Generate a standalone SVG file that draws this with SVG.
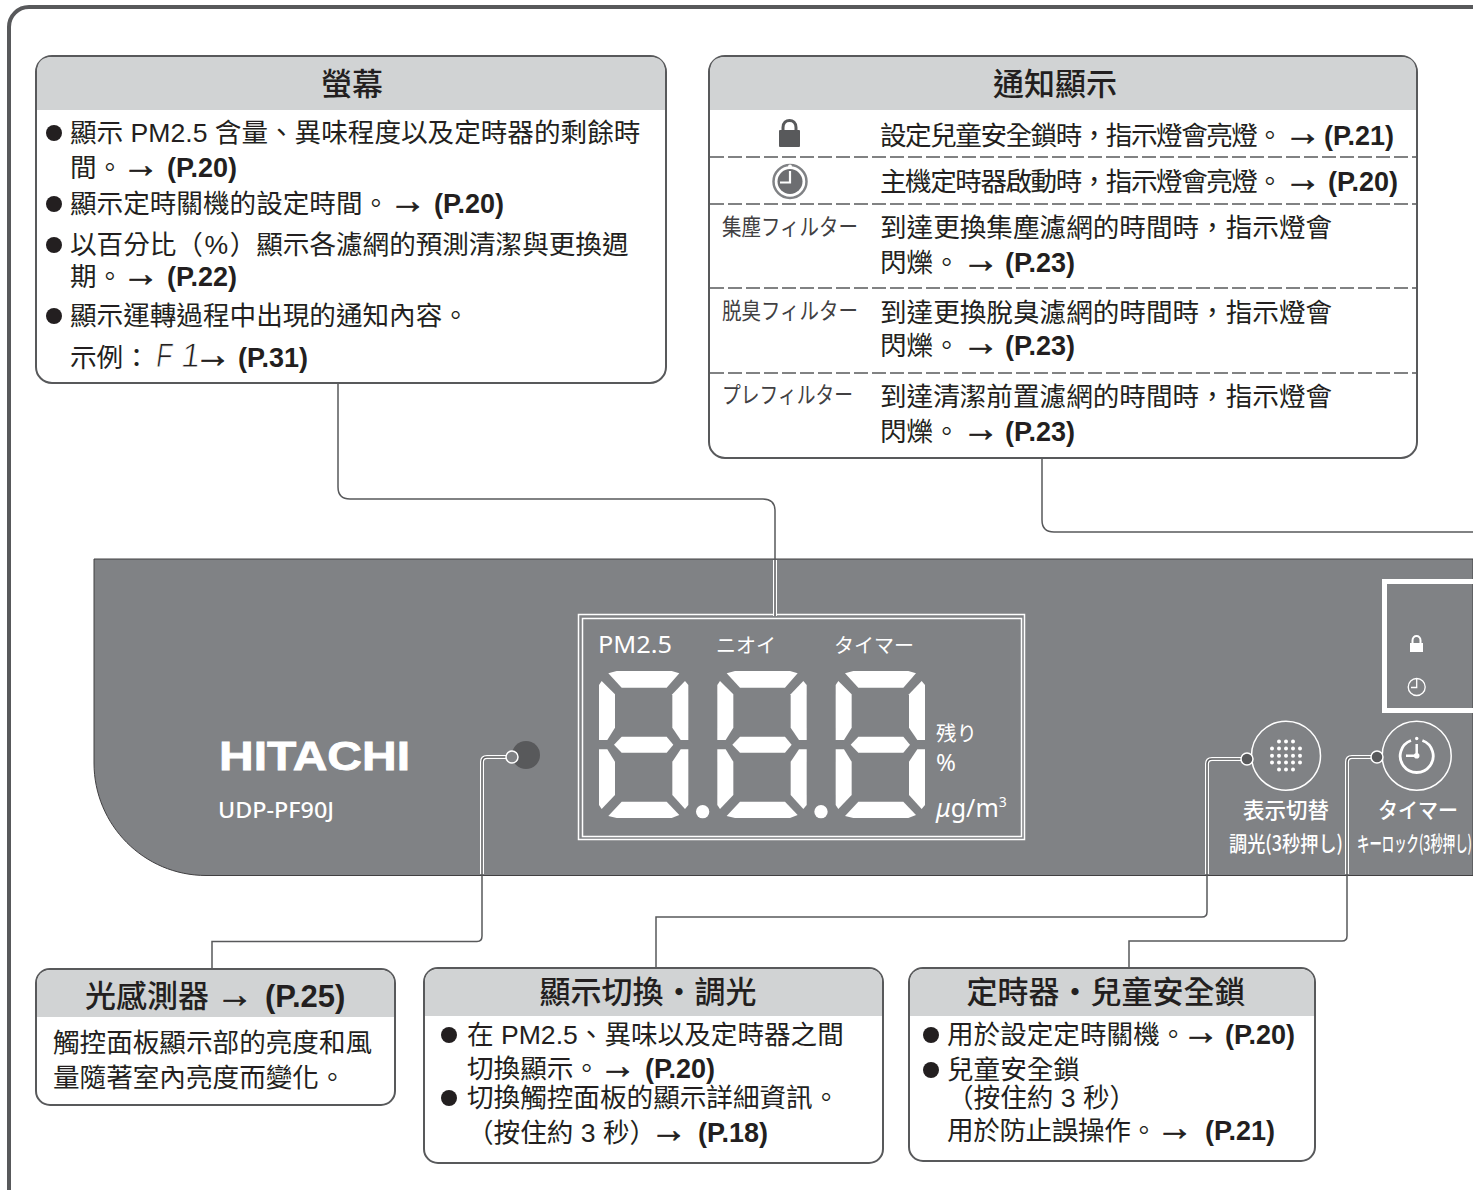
<svg xmlns="http://www.w3.org/2000/svg" xmlns:xlink="http://www.w3.org/1999/xlink" width="1473" height="1190" viewBox="0 0 1473 1190">
<style>
text{font-family:"Liberation Sans","Noto Sans CJK TC",sans-serif;fill:#231f20}
.b{font-size:26.6px}
.p{font-weight:bold;font-size:27px}
.a{font-weight:bold;font-size:37px;stroke:#231f20;stroke-width:.7}
.h{font-size:31px;font-weight:500;text-anchor:middle}
.hp{font-weight:bold;font-size:31px}
.box{fill:#fff;stroke:#58595b;stroke-width:2}
.hd{fill:#d1d3d4}
.dash{stroke:#58595b;stroke-width:1.5;stroke-dasharray:14 4;fill:none}
.bul{fill:#231f20}
.halo{fill:none;stroke:#fff;stroke-width:4}
.ln{fill:none;stroke:#58595b;stroke-width:1.5}
.w{fill:#fff;font-family:"Noto Sans CJK JP","Noto Sans",sans-serif}
.k{font-family:"Noto Sans CJK JP",sans-serif;font-size:23px;fill:#414042}
.seg{fill:#fff}
.sm{fill:#58595b;stroke:#fff;stroke-width:1.5}
</style>
<defs>
<g id="digit">
<polygon class="seg" points="115,220 140,213 305,213 328,220 290,263 155,263"/>
<polygon class="seg" points="87,255 95,243 135,283 135,383 112,420 87,420"/>
<polygon class="seg" points="355,255 345,243 307,283 307,383 332,420 355,420"/>
<polygon class="seg" points="132,434 155,410 290,410 310,434 290,458 155,458"/>
<polygon class="seg" points="87,448 112,448 135,485 135,585 95,627 87,615"/>
<polygon class="seg" points="355,448 332,448 307,485 307,585 345,627 355,615"/>
<polygon class="seg" points="115,648 155,605 290,605 328,645 305,654 140,654"/>
</g>
</defs>
<rect width="1473" height="1190" fill="#fff"/>
<rect id="frame" x="9" y="7" width="1500" height="1230" rx="20" fill="none" stroke="#58595b" stroke-width="4"/>

<g id="panel">
<path d="M94 559H1473V875.500H206C144 875.500 94 825 94 763Z" fill="#808285" stroke="#414042" stroke-width="1"/>
<g id="brand">
<text x="219" y="770" font-size="41" font-weight="bold" textLength="191" lengthAdjust="spacingAndGlyphs" style="fill:#fff;stroke:#fff;stroke-width:.8">HITACHI</text>
<text x="218" y="818" font-size="21" font-weight="500" textLength="116" lengthAdjust="spacingAndGlyphs" style="fill:#fff;font-family:'Noto Sans',sans-serif">UDP-PF90J</text>
</g>
<circle id="sensor" cx="526" cy="755" r="14" fill="#58595b"/>
<g id="display">
<rect x="578.500" y="614.500" width="446" height="225" fill="none" stroke="#fff" stroke-width="1.500"/>
<rect x="582.500" y="618.500" width="439" height="218" fill="none" stroke="#fff" stroke-width="1.500"/>
<text x="598" y="653" font-size="23" class="w" textLength="74" lengthAdjust="spacingAndGlyphs" style="font-family:'Noto Sans',sans-serif">PM2.5</text>
<text x="716" y="653" font-size="20" class="w">ニオイ</text>
<text x="834" y="653" font-size="20" class="w" textLength="80" lengthAdjust="spacingAndGlyphs">タイマー</text>
<g transform="translate(570 600) scale(.33333)">
<use xlink:href="#digit"/>
<use xlink:href="#digit" x="355"/>
<use xlink:href="#digit" x="710"/>
<circle cx="398" cy="635" r="20" fill="#fff"/>
<circle cx="753" cy="635" r="20" fill="#fff"/>
</g>
<text x="936" y="741" font-size="20.500" class="w">残り</text>
<text x="936" y="771" font-size="24" class="w" style="font-family:'Noto Sans',sans-serif">%</text>
<text x="936" y="817" font-size="25" class="w" style="font-family:'Noto Sans',sans-serif"><tspan font-style="italic">μ</tspan>g/m<tspan font-size="14" dy="-10">3</tspan></text>
</g>
<g id="indicator">
<path d="M1473 581.500H1384.500V710.500H1473" fill="none" stroke="#fff" stroke-width="5"/>
<rect x="1410" y="643" width="13" height="9" fill="#fff"/>
<path d="M1412.500 644V640.500C1412.500 634.500 1420.500 634.500 1420.500 640.500V644" fill="none" stroke="#fff" stroke-width="2"/>
<circle cx="1416.700" cy="687" r="8.500" fill="none" stroke="#fff" stroke-width="1.300"/>
<path d="M1416.700 679V687.500H1411" fill="none" stroke="#fff" stroke-width="1.300"/>
</g>
<g id="btn-display">
<circle cx="1286" cy="755.700" r="34.500" fill="none" stroke="#fff" stroke-width="1.500"/>
<g fill="#fff">
<circle cx="1279" cy="741.500" r="2"/><circle cx="1286" cy="741.500" r="2"/><circle cx="1293" cy="741.500" r="2"/>
<circle cx="1272" cy="748.500" r="2"/><circle cx="1279" cy="748.500" r="2"/><circle cx="1286" cy="748.500" r="2"/><circle cx="1293" cy="748.500" r="2"/><circle cx="1300" cy="748.500" r="2"/>
<circle cx="1272" cy="755.700" r="2"/><circle cx="1279" cy="755.700" r="2"/><circle cx="1286" cy="755.700" r="2"/><circle cx="1293" cy="755.700" r="2"/><circle cx="1300" cy="755.700" r="2"/>
<circle cx="1272" cy="762.500" r="2"/><circle cx="1279" cy="762.500" r="2"/><circle cx="1286" cy="762.500" r="2"/><circle cx="1293" cy="762.500" r="2"/><circle cx="1300" cy="762.500" r="2"/>
<circle cx="1279" cy="769.500" r="2"/><circle cx="1286" cy="769.500" r="2"/><circle cx="1293" cy="769.500" r="2"/>
</g>
<text x="1243" y="818" font-size="21.500" font-weight="500" class="w" textLength="86">表示切替</text>
<text x="1229" y="851" font-size="21" font-weight="500" class="w" textLength="114" lengthAdjust="spacingAndGlyphs">調光(3秒押し)</text>
</g>
<g id="btn-timer">
<circle cx="1416.700" cy="755.700" r="34.500" fill="none" stroke="#fff" stroke-width="1.500"/>
<path d="M1411 740.500A16.500 16.500 0 1 0 1422.400 740.500" fill="none" stroke="#fff" stroke-width="2.800"/>
<circle cx="1416.700" cy="738.500" r="1.700" fill="#fff"/>
<path d="M1416.700 744V755.700H1406" fill="none" stroke="#fff" stroke-width="2.500"/>
<circle cx="1416.700" cy="755.700" r="2.800" fill="#fff"/>
<text x="1378" y="818" font-size="21.500" font-weight="500" class="w" textLength="80" lengthAdjust="spacingAndGlyphs">タイマー</text>
<text x="1357" y="851" font-size="21" font-weight="500" class="w" textLength="115" lengthAdjust="spacingAndGlyphs">キーロック(3秒押し)</text>
</g>
</g>

<g id="connectors">
<path class="ln" d="M338 383V487Q338 499 350 499H763Q775 499 775 511V558"/>
<path class="halo" d="M775 560V616"/><path class="ln" d="M775 558V616"/>
<path class="ln" d="M1042 458V520Q1042 532 1054 532H1473"/>
<path class="halo" d="M506 757H487Q482 757 482 762V874"/>
<path class="ln" d="M506 757H487Q482 757 482 762V936Q482 941.500 477 941.500H212V968"/>
<path class="halo" d="M1241 759H1212Q1207 759 1207 764V874"/>
<path class="ln" d="M1241 759H1212Q1207 759 1207 764V912Q1207 917 1202 917H656V967"/>
<path class="halo" d="M1371 757H1352Q1347 757 1347 762V874"/>
<path class="ln" d="M1371 757H1352Q1347 757 1347 762V936Q1347 941 1342 941H1129V967"/>
<circle cx="512" cy="757" r="6" fill="#808285" stroke="#fff" stroke-width="1.500"/>
<circle class="sm" cx="1247" cy="759" r="6"/>
<circle class="sm" cx="1377" cy="757" r="6"/>
</g>

<g id="box-screen">
<rect class="box" x="36" y="56" width="630" height="327" rx="16"/>
<path class="hd" d="M37 110V72Q37 57 52 57H650Q665 57 665 72V110Z"/>
<text class="h" x="352" y="95">螢幕</text>
<circle class="bul" cx="54" cy="133" r="8"/>
<text class="b" x="70" y="142">顯示 PM2.5 含量、異味程度以及定時器的剩餘時</text>
<text class="b" x="70" y="177">間。<tspan class="a" x="122">→</tspan><tspan class="p" x="167">(P.20)</tspan></text>
<circle class="bul" cx="54" cy="204" r="8"/>
<text class="b" x="70" y="213">顯示定時關機的設定時間。<tspan class="a" x="389">→</tspan><tspan class="p" x="434">(P.20)</tspan></text>
<circle class="bul" cx="54" cy="245" r="8"/>
<text class="b" x="70" y="254">以百分比（<tspan dx="1.500">%</tspan><tspan dx="1.500">）</tspan>顯示各濾網的預測清潔與更換週</text>
<text class="b" x="70" y="286">期。<tspan class="a" x="122">→</tspan><tspan class="p" x="167">(P.22)</tspan></text>
<circle class="bul" cx="54" cy="316" r="8"/>
<text class="b" x="70" y="325">顯示運轉過程中出現的通知內容。</text>
<text class="b" x="70" y="367">示例：</text>
<text transform="translate(155 367) skewX(-8)" textLength="16" lengthAdjust="spacingAndGlyphs" style="font-size:34px;font-family:'Liberation Sans',sans-serif;stroke:#fff;stroke-width:.8">F</text>
<text transform="translate(180 367) skewX(-8)" style="font-size:34px;font-family:'Liberation Sans',sans-serif;stroke:#fff;stroke-width:.8">1</text>
<text x="194" y="367"><tspan class="a">→</tspan><tspan class="p" x="238">(P.31)</tspan></text>
</g>

<g id="box-notice">
<rect class="box" x="709" y="56" width="708" height="402" rx="16"/>
<path class="hd" d="M710 110V72Q710 57 725 57H1401Q1416 57 1416 72V110Z"/>
<text class="h" x="1055" y="95">通知顯示</text>
<rect x="779" y="130" width="21" height="17" rx="1" fill="#58595b"/>
<path d="M783 131V127.500C783 118 796 118 796 127.500V131" fill="none" stroke="#58595b" stroke-width="3"/>
<circle cx="790" cy="181.500" r="16.500" fill="#fff" stroke="#808285" stroke-width="2.500"/>
<circle cx="790" cy="181.500" r="12.500" fill="#6d6e71"/>
<circle cx="790" cy="166.500" r="2" fill="#fff"/>
<path d="M790 171V182.500H780" fill="none" stroke="#fff" stroke-width="2.200"/>
<text class="b" x="880" y="145" textLength="403">設定兒童安全鎖時，指示燈會亮燈。</text>
<text x="1284" y="145"><tspan class="a">→</tspan><tspan class="p" x="1324">(P.21)</tspan></text>
<path class="dash" d="M710 157H1416"/>
<text class="b" x="880" y="191" textLength="403">主機定時器啟動時，指示燈會亮燈。</text>
<text x="1284" y="191"><tspan class="a">→</tspan><tspan class="p" x="1328">(P.20)</tspan></text>
<path class="dash" d="M710 204H1416"/>
<text class="k" x="722" y="235" textLength="136" lengthAdjust="spacingAndGlyphs">集塵フィルター</text>
<text class="b" x="880" y="237">到達更換集塵濾網的時間時，指示燈會</text>
<text class="b" x="880" y="272">閃爍。<tspan class="a" x="962">→</tspan><tspan class="p" x="1005">(P.23)</tspan></text>
<path class="dash" d="M710 288H1416"/>
<text class="k" x="722" y="319" textLength="136" lengthAdjust="spacingAndGlyphs">脱臭フィルター</text>
<text class="b" x="880" y="322">到達更換脫臭濾網的時間時，指示燈會</text>
<text class="b" x="880" y="355">閃爍。<tspan class="a" x="962">→</tspan><tspan class="p" x="1005">(P.23)</tspan></text>
<path class="dash" d="M710 373H1416"/>
<text class="k" x="722" y="403" textLength="131" lengthAdjust="spacingAndGlyphs">プレフィルター</text>
<text class="b" x="880" y="406">到達清潔前置濾網的時間時，指示燈會</text>
<text class="b" x="880" y="441">閃爍。<tspan class="a" x="962">→</tspan><tspan class="p" x="1005">(P.23)</tspan></text>
</g>

<g id="box-sensor">
<rect class="box" x="36" y="969" width="359" height="136" rx="14"/>
<path class="hd" d="M37 1017V984Q37 970 51 970H380Q394 970 394 984V1017Z"/>
<text x="85" y="1007" style="font-size:31px;font-weight:500">光感測器<tspan class="a" x="216">→</tspan><tspan class="hp" x="265">(P.25)</tspan></text>
<text class="b" x="53" y="1052">觸控面板顯示部的亮度和風</text>
<text class="b" x="53" y="1087">量隨著室內亮度而變化。</text>
</g>

<g id="box-dimmer">
<rect class="box" x="424" y="968" width="459" height="195" rx="14"/>
<path class="hd" d="M425 1016V983Q425 969 439 969H868Q882 969 882 983V1016Z"/>
<text class="h" x="648" y="1003">顯示切換・調光</text>
<circle class="bul" cx="449" cy="1035" r="8"/>
<text class="b" x="467" y="1044">在 PM2.5、異味以及定時器之間</text>
<text class="b" x="467" y="1078">切換顯示。<tspan class="a" x="599">→</tspan><tspan class="p" x="645">(P.20)</tspan></text>
<circle class="bul" cx="449" cy="1098" r="8"/>
<text class="b" x="467" y="1107">切換觸控面板的顯示詳細資訊。</text>
<text class="b" x="467" y="1142">（按住約 3 秒）<tspan class="a" x="650">→</tspan><tspan class="p" x="698">(P.18)</tspan></text>
</g>

<g id="box-timer">
<rect class="box" x="909" y="968" width="406" height="193" rx="14"/>
<path class="hd" d="M910 1016V983Q910 969 924 969H1300Q1314 969 1314 983V1016Z"/>
<text class="h" x="1106" y="1003">定時器・兒童安全鎖</text>
<circle class="bul" cx="931" cy="1035" r="8"/>
<text class="b" x="947" y="1044">用於設定定時關機。<tspan class="a" x="1182">→</tspan><tspan class="p" x="1225">(P.20)</tspan></text>
<circle class="bul" cx="931" cy="1070" r="8"/>
<text class="b" x="947" y="1079">兒童安全鎖</text>
<text class="b" x="947" y="1107">（按住約 3 秒）</text>
<text class="b" x="947" y="1140" textLength="210">用於防止誤操作。</text>
<text x="1156" y="1140"><tspan class="a">→</tspan><tspan class="p" x="1205">(P.21)</tspan></text>
</g>
</svg>
